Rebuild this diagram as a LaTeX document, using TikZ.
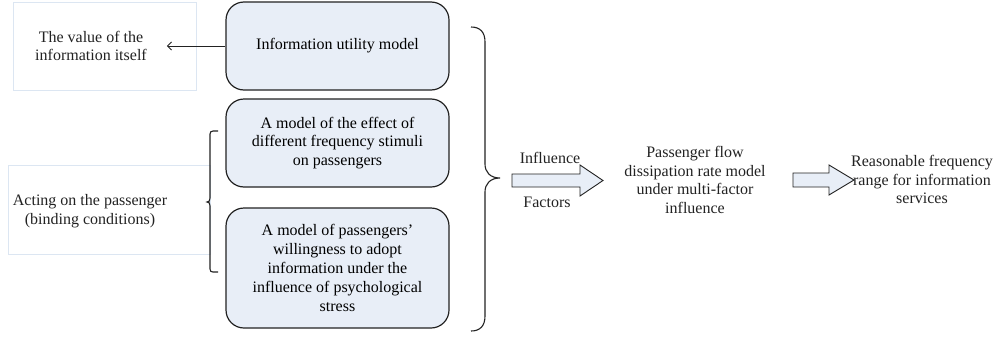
\documentclass[tikz,border=0pt]{standalone}
\usepackage{fontspec}
\setmainfont{Liberation Serif}[Ligatures=ResetAll]
\usetikzlibrary{arrows.meta}
\definecolor{boxfill}{HTML}{E8EEF7}
\definecolor{lightedge}{HTML}{DCE6F2}
\definecolor{ink}{HTML}{222222}
\begin{document}
\begin{tikzpicture}[x=1pt,y=-1pt,
  font=\fontsize{16}{18.8}\selectfont,
  model/.style={draw=ink, line width=1.2pt, fill=boxfill, rounded corners=18pt,
    align=center, inner sep=0pt, minimum width=223pt},
  note/.style={draw=lightedge, line width=1pt, inner sep=0pt},
  txt/.style={align=center, inner sep=0pt, text=ink},
  blockarrow/.style={draw=ink, line width=0.9pt, fill=boxfill, line join=miter},
  brace/.style={draw=ink, line width=1.1pt},
  thin/.style={draw=ink, line width=0.8pt, -{Straight Barb[length=4pt,width=8pt]}}]
\useasboundingbox (0,0) rectangle (998,343);

% left notes
\node[note, minimum width=183pt, minimum height=88pt] (vbox) at (104.5,46) {};
\node[txt] (vtext) at (91,46) {The value of the\\information itself};
\node[note, minimum width=202pt, minimum height=89pt] (pbox) at (109,209.5) {};
\node[txt] (ptext) at (90,211) {Acting on the passenger\\(binding conditions)};

% model boxes
\node[model, minimum height=88pt] (m1) at (337.5,46) {Information utility model};
\node[model, minimum height=88pt] (m2) at (337.5,143) {A model of the effect of\\different frequency stimuli\\on passengers};
\node[model, minimum height=120pt] (m3) at (337.5,268) {A model of passengers'\\willingness to adopt\\information under the\\influence of psychological\\stress};

% thin arrow
\draw[thin, shorten >=20pt] (m1.west) -- (vtext.east |- m1.west);

% left brace
\draw[brace] (218,131) -- (213,131) .. controls (211,131) and (210,132) .. (210,134)
  -- (210,198) .. controls (210,201) and (209,202) .. (207,202)
  .. controls (209,202) and (210,203) .. (210,206)
  -- (210,269) .. controls (210,271) and (211,272) .. (213,272) -- (218,272);

% right brace
\draw[brace] (471,27) .. controls (480,27) and (485,32) .. (485,42)
  -- (485,164) .. controls (485,172) and (490,178) .. (500,178)
  .. controls (490,178) and (485,184) .. (485,192)
  -- (485,316) .. controls (485,326) and (480,331) .. (471,331);

% influence arrow
\node[txt] (inf) at (550,158) {Influence};
\node[txt] (fac) at (547,202) {Factors};
\draw[blockarrow] (512,174) -- (580,174) -- (580,165) -- (603,180.5) -- (580,196) -- (580,187) -- (512,187) -- cycle;

\node[txt] (flow) at (695,180) {Passenger flow\\dissipation rate model\\under multi-factor\\influence};

\draw[blockarrow] (793,173) -- (829,173) -- (829,165) -- (854,180) -- (829,195) -- (829,187) -- (793,187) -- cycle;

\node[txt] (range) at (922,179.5) {Reasonable frequency\\range for information\\services};
\end{tikzpicture}
\end{document}
